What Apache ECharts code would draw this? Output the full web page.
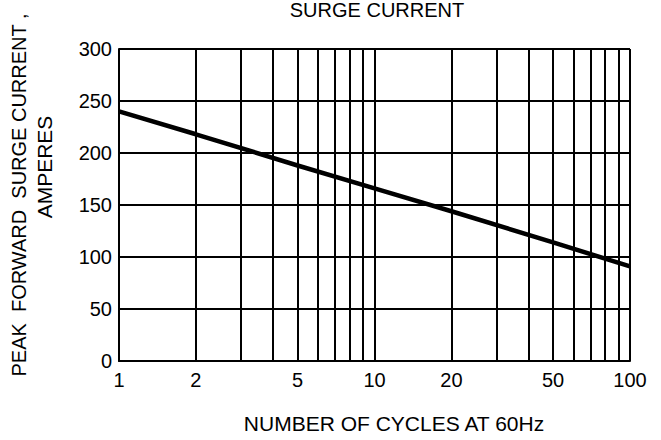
<!DOCTYPE html>
<html>
<head>
<meta charset="utf-8">
<script src="https://cdn.jsdelivr.net/npm/echarts@6/dist/echarts.min.js"></script>
<style>
    html, body { margin: 0; padding: 0; background: #fff; }
    #chart { width: 661px; height: 440px; }
</style>
</head>
<body>
<div id="chart"></div>
<script>
    // cycles (log scale) and peak surge current
    const cycles = [1, 2, 5, 10, 20, 50, 100];
    const amperes = [240, 218, 188, 166, 144, 114, 91];
    const xLabelValues = [1, 2, 5, 10, 20, 50, 100];
    const xGridValues = [1, 2, 3, 4, 5, 6, 7, 8, 9, 10, 20, 30, 40, 50, 60, 70, 80, 90, 100];
    const yTicks = [0, 50, 100, 150, 200, 250, 300];

    const font = 'Liberation Sans, Arial, sans-serif';
    const chart = echarts.init(document.getElementById('chart'), null, { renderer: 'svg' });

    const option = {
        animation: false,
        backgroundColor: '#fff',
        title: {
            text: 'SURGE CURRENT',
            left: 372,
            textAlign: 'center',
            top: -5,
            textStyle: { fontFamily: font, fontSize: 20, fontWeight: 'normal', color: '#000' }
        },
        grid: { left: 119, right: 31, top: 49, bottom: 79 },
        xAxis: {
            type: 'log',
            logBase: 10,
            min: 1,
            max: 100,
            axisLine: { lineStyle: { color: '#000', width: 2 } },
            axisTick: { show: false, customValues: xGridValues },
            axisLabel: {
                customValues: xLabelValues,
                margin: 9,
                fontFamily: font,
                fontSize: 20,
                color: '#000'
            },
            splitLine: { show: true, lineStyle: { color: '#000', width: 2 } }
        },
        yAxis: {
            type: 'value',
            min: 0,
            max: 300,
            interval: 50,
            axisLine: { show: true, lineStyle: { color: '#000', width: 2 } },
            axisTick: { show: false },
            axisLabel: {
                margin: 7,
                fontFamily: font,
                fontSize: 20,
                color: '#000',
                formatter: v => (yTicks.indexOf(v) >= 0 ? String(v) : '')
            },
            splitLine: { show: true, lineStyle: { color: '#000', width: 2 } }
        },
        graphic: [
            {
                type: 'text',
                x: 19,
                y: 195,
                rotation: Math.PI / 2,
                style: {
                    text: 'PEAK  FORWARD  SURGE CURRENT ,',
                    fontFamily: font,
                    fontSize: 20,
                    fill: '#000',
                    align: 'center',
                    verticalAlign: 'middle'
                }
            },
            {
                type: 'text',
                x: 44,
                y: 167,
                rotation: Math.PI / 2,
                style: {
                    text: 'AMPERES',
                    fontFamily: font,
                    fontSize: 21,
                    fill: '#000',
                    align: 'center',
                    verticalAlign: 'middle'
                }
            },
            {
                type: 'text',
                x: 394,
                y: 423,
                style: {
                    text: 'NUMBER OF CYCLES AT 60Hz',
                    fontFamily: font,
                    fontSize: 21,
                    fill: '#000',
                    align: 'center',
                    verticalAlign: 'middle'
                }
            }
        ],
        series: [
            {
                type: 'line',
                data: cycles.map((c, i) => [c, amperes[i]]),
                showSymbol: false,
                lineStyle: { color: '#000', width: 4.5 }
            }
        ]
    };
    chart.setOption(option);
</script>
</body>
</html>
